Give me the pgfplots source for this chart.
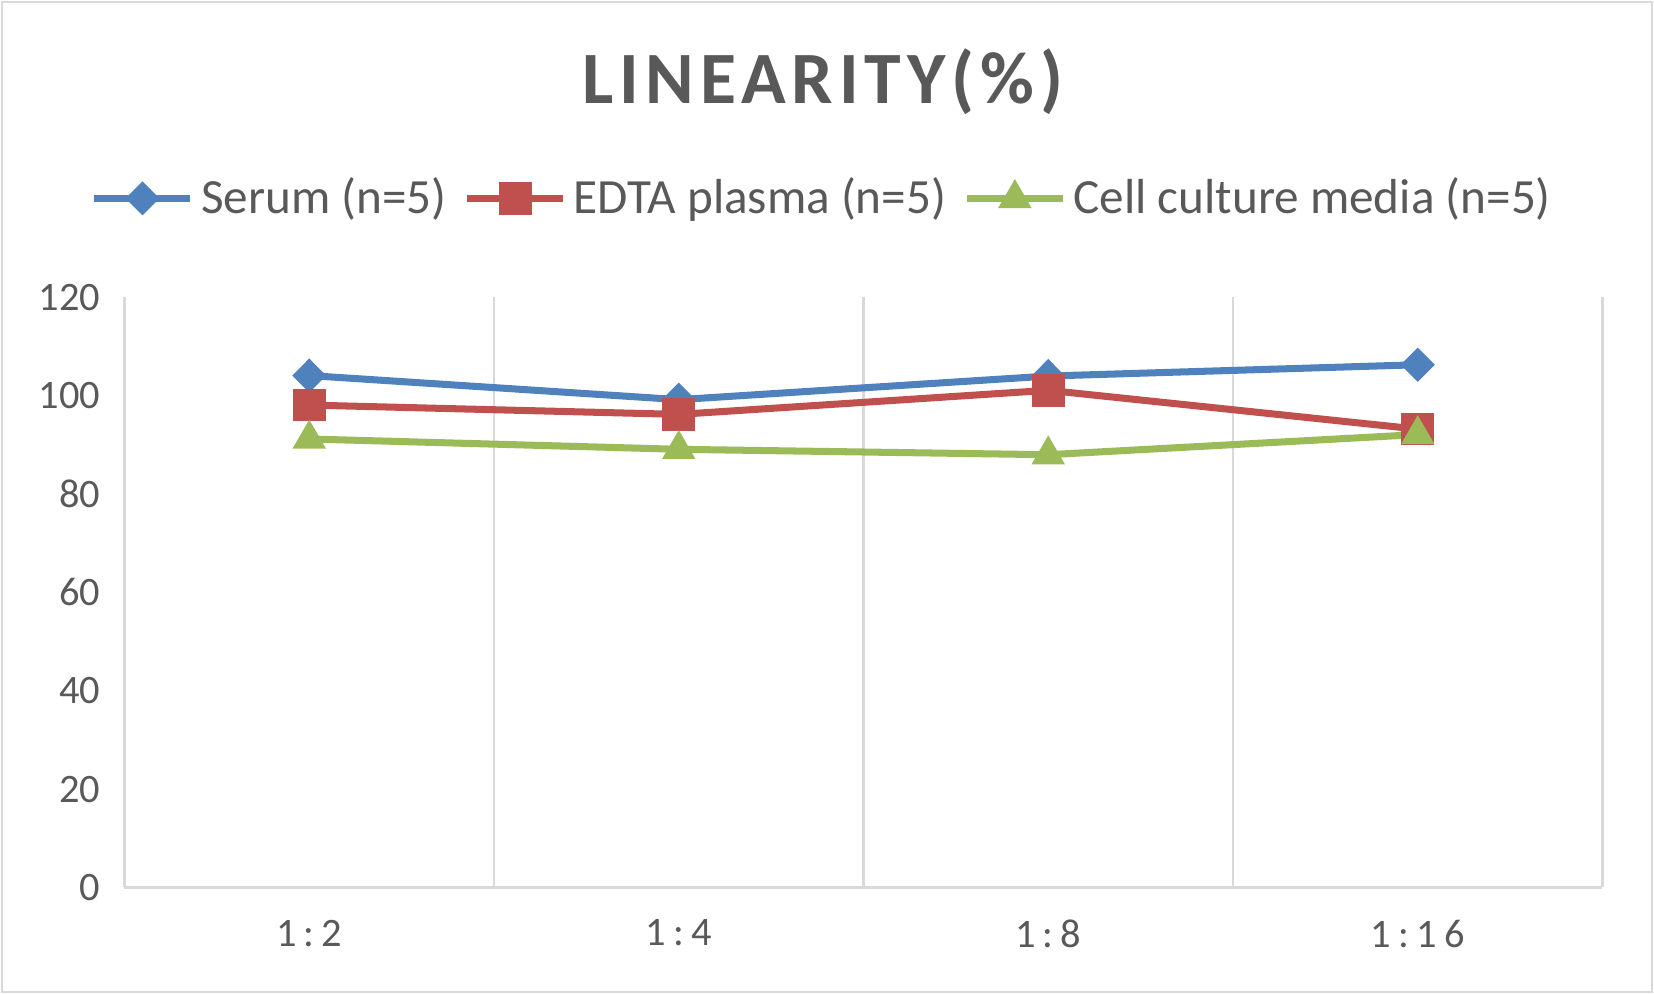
\documentclass[border=0pt]{standalone}
\usepackage{pgfplots}
\pgfplotsset{compat=1.18}
\usepackage{fontspec}
\setmainfont{Carlito}
\usetikzlibrary{plotmarks}

\definecolor{serum}{HTML}{4F81BD}
\definecolor{edta}{HTML}{C0504D}
\definecolor{cell}{HTML}{9BBB59}
\definecolor{txt}{HTML}{595959}
\definecolor{gridc}{HTML}{D9D9D9}

\begin{document}
\begin{tikzpicture}
\useasboundingbox (0,0) rectangle (16.54,9.94);
\draw[gridc, line width=0.8pt] (0.02,0.02) rectangle (16.52,9.92);

\node[text=txt, font=\fontsize{21}{24}\selectfont\bfseries\addfontfeature{LetterSpace=8}] at (8.23,9.12) {LINEARITY(\%)};

\begin{axis}[
    at={(1.245cm,1.066cm)}, anchor=south west,
    scale only axis,
    width=14.78cm, height=5.90cm,
    xmin=0, xmax=4,
    ymin=0, ymax=120,
    xtick={0.5,1.5,2.5,3.5},
    xticklabels={1:2, 1:4, 1:8, 1:16},
    minor xtick={0,1,2,3,4},
    xminorgrids=true,
    minor x grid style={gridc, line width=0.8pt},
    ytick={0,20,...,120},
    major tick length=0pt, minor tick length=0pt,
    axis x line*=bottom, axis y line*=left,
    x axis line style={gridc, line width=0.8pt, -},
    y axis line style={draw=none},
    tick label style={text=txt, font=\fontsize{11.5}{13}\selectfont},
    /pgf/number format/assume math mode=true,
    xticklabel style={yshift=-0.2cm, font=\fontsize{11.5}{13}\selectfont\addfontfeature{LetterSpace=18}},
    yticklabel style={xshift=-0.12cm},
    clip=false,
    legend columns=3,
    legend style={at={(axis description cs:0.5,1)}, anchor=center, yshift=0.99cm, xshift=-0.39cm,
        draw=none, fill=none, font=\fontsize{14}{16}\selectfont, text=txt,
        /tikz/every even column/.append style={column sep=0.1cm},
        inner sep=0pt},
    legend image code/.code={\draw[mark repeat=2,mark phase=2] plot coordinates {(0cm,0cm)(0.48cm,0cm)(0.96cm,0cm)};},
]
\addplot[color=serum, line width=2pt, mark=diamond*, mark size=4.5pt, mark options={xscale=1.33, solid, line width=0.5pt}] coordinates {
    (0.5,104.1) (1.5,99.2) (2.5,104.0) (3.5,106.3)
};
\addplot[color=edta, line width=2pt, mark=square*, mark size=4.4pt, mark options={solid, line width=0.5pt}] coordinates {
    (0.5,98.1) (1.5,96.2) (2.5,101.1) (3.5,93.2)
};
\addplot[color=cell, line width=2pt, mark=triangle*, mark size=5pt, mark options={solid, line width=0.5pt}] coordinates {
    (0.5,91.2) (1.5,89.1) (2.5,88.0) (3.5,92.1)
};
\legend{Serum (n=5), EDTA plasma (n=5), Cell culture media (n=5)}
\end{axis}
\end{tikzpicture}
\end{document}
